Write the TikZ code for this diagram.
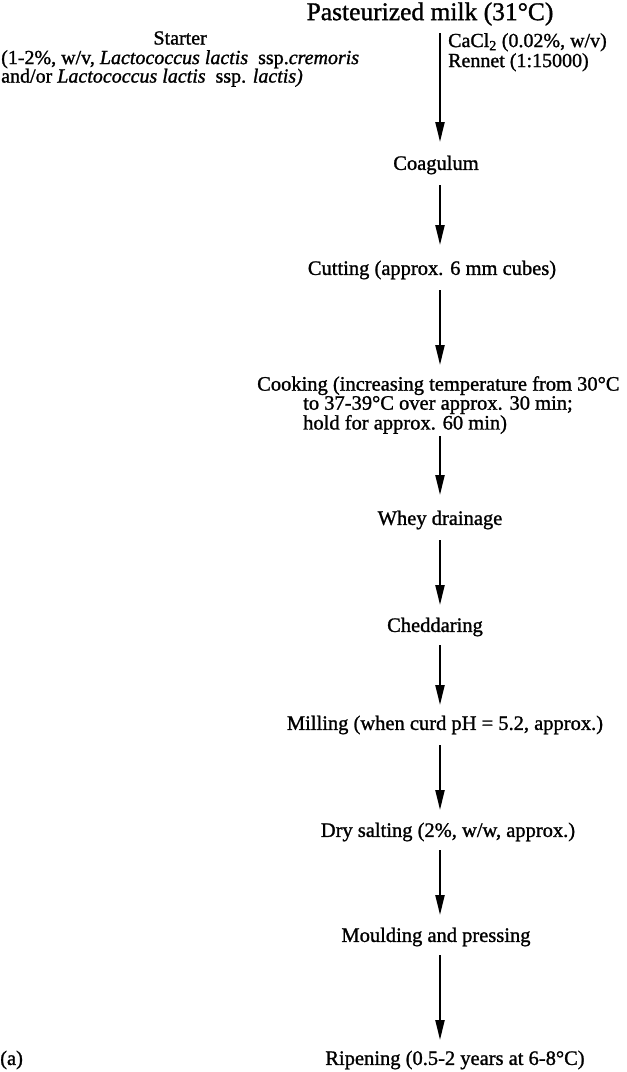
\documentclass[tikz,border=0pt]{standalone}
\usepackage{fontspec}
\setmainfont{Liberation Serif}[FakeBold=1.2]
\usetikzlibrary{arrows.meta}
\tikzset{
  stepnode/.style={inner sep=0pt, font=\fontsize{20.5}{21}\selectfont},
  sidenode/.style={inner sep=0pt, align=left, font=\fontsize{20}{18.5}\selectfont},
  flow/.style={line width=2.2pt, -{Triangle[length=20pt,width=9pt]}},
}
\begin{document}
\begin{tikzpicture}[x=1pt,y=-1pt]
\useasboundingbox (0,0) rectangle (627,1072);
% vertical line on which all the arrows sit
\coordinate (spine) at (440,0);
% headline and additions
\node[inner sep=0pt, font=\fontsize{25.5}{28}\selectfont] (milk) at (430,14) {Pasteurized milk (31°C)};
\node[sidenode, anchor=north west] (starterinfo) at (1,50)
  {(1-2\%, w/v, \textit{Lactococcus lactis}\ \ ssp.\textit{cremoris}\\
   and/or \textit{Lactococcus lactis}\ \ ssp. \textit{lactis)}};
\node[sidenode] (starter) at (starterinfo.north |- 0,38) {Starter};
\node[sidenode, anchor=north west, font=\fontsize{20}{20}\selectfont] (additives) at (448,33)
  {CaCl\textsubscript{2} (0.02\%, w/v)\\Rennet (1:15000)};
% process steps
\node[stepnode] (coag) at (436,165) {Coagulum};
\node[stepnode] (cut) at (432,270) {Cutting (approx. 6 mm cubes)};
\node[stepnode, anchor=north west, align=left, font=\fontsize{20.5}{17.5}\selectfont] (cook) at (257,376)
  {Cooking (increasing temperature from 30°C\\
   \hspace*{46pt}to 37-39°C over approx. 30 min;\\
   \hspace*{46pt}hold for approx. 60 min)};
\node[stepnode] (whey) at (440,520) {Whey drainage};
\node[stepnode] (ched) at (435,627) {Cheddaring};
\node[stepnode] (mill) at (445,725) {Milling (when curd pH = 5.2, approx.)};
\node[stepnode] (salt) at (448,832) {Dry salting (2\%, w/w, approx.)};
\node[stepnode] (mould) at (436,937) {Moulding and pressing};
\node[stepnode] (ripen) at (455,1060) {Ripening (0.5-2 years at 6-8°C)};
\node[stepnode, anchor=west] (label) at (0,1060) {(a)};
% connectors
\draw[flow, shorten <=19pt, shorten >=23pt] (milk.center -| spine) -- (coag.center -| spine);
\draw[flow, shorten <=20pt, shorten >=25pt] (coag.center -| spine) -- (cut.center -| spine);
\draw[flow, shorten <=20pt, shorten >=11pt] (cut.center -| spine) -- (cook.north -| spine);
\draw[flow, shorten <=2pt, shorten >=25pt] (cook.south -| spine) -- (whey.center -| spine);
\draw[flow, shorten <=20pt, shorten >=22pt] (whey.center -| spine) -- (ched.center -| spine);
\draw[flow, shorten <=18pt, shorten >=20pt] (ched.center -| spine) -- (mill.center -| spine);
\draw[flow, shorten <=20pt, shorten >=22pt] (mill.center -| spine) -- (salt.center -| spine);
\draw[flow, shorten <=18pt, shorten >=22pt] (salt.center -| spine) -- (mould.center -| spine);
\draw[flow, shorten <=18pt, shorten >=20pt] (mould.center -| spine) -- (ripen.center -| spine);
\end{tikzpicture}
\end{document}
